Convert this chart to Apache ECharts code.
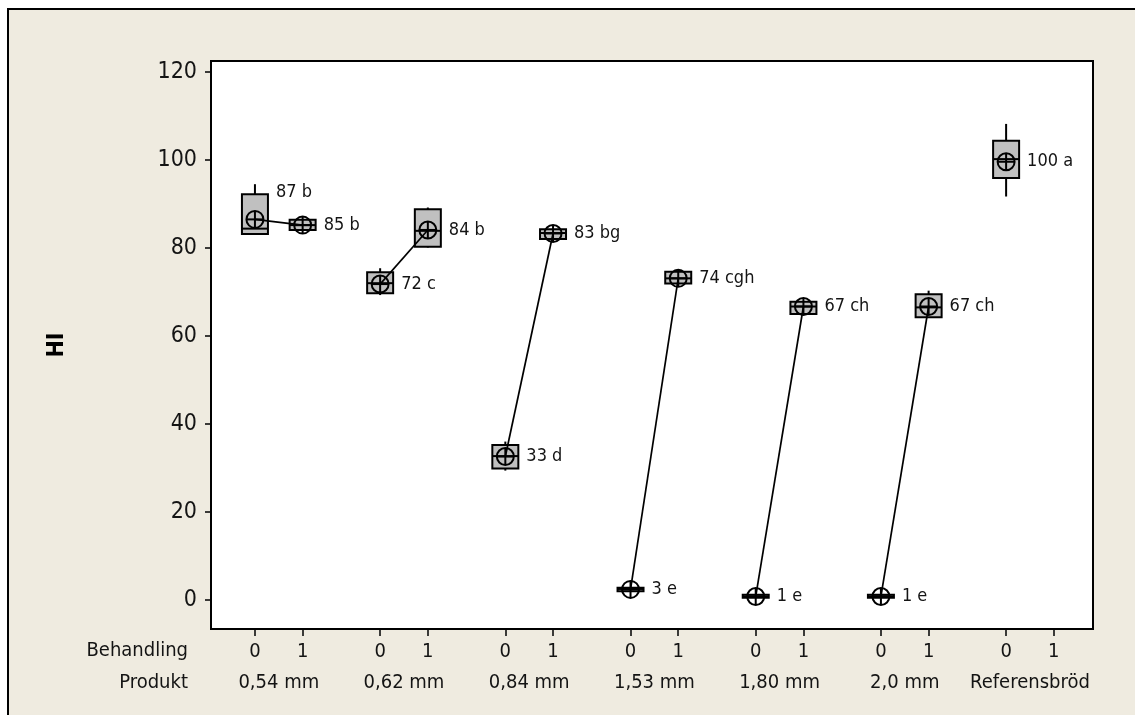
<!DOCTYPE html>
<html>
<head>
<meta charset="utf-8">
<script src="https://cdn.jsdelivr.net/npm/echarts@6/dist/echarts.min.js"></script>
<style>
  html, body { margin: 0; padding: 0; background: #ffffff; overflow: hidden; }
  #panel { position: absolute; left: 7px; top: 8px; width: 1200px; height: 800px;
           background: #EFEBE0; border: 2px solid #000; }
  #main { position: absolute; left: 0; top: 0; width: 1135px; height: 715px; }
</style>
</head>
<body>
<div id="panel"></div>
<div id="main"></div>
<script>
// ---- data ----
const products = ['0,54 mm', '0,62 mm', '0,84 mm', '1,53 mm', '1,80 mm', '2,0 mm', 'Referensbröd'];
const treatments = ['0', '1'];
const yTicks = [0, 20, 40, 60, 80, 100, 120];
// one entry per box
const pointProduct   = [0, 0, 1, 1, 2, 2, 3, 3, 4, 4, 5, 5, 6];
const pointTreatment = [0, 1, 0, 1, 0, 1, 0, 1, 0, 1, 0, 1, 0];
const minV    = [83.2, 84.1, 69.3, 80.1, 29.4, 82.05, 1.9, 71.9, 0.4, 65.0, 0.4, 64.25, 91.7];
const q1V     = [83.2, 84.1, 69.7, 80.3, 29.9, 82.05, 2.0, 71.9, 0.5, 65.0, 0.5, 64.25, 95.9];
const medianV = [84.4, 85.2, 72.0, 83.9, 32.7, 83.4, 2.5, 73.1, 0.8, 66.7, 0.8, 66.5, 100.2];
const q3V     = [92.2, 86.4, 74.5, 88.8, 35.2, 84.25, 2.8, 74.6, 1.2, 67.8, 1.2, 69.5, 104.4];
const maxV    = [94.5, 86.4, 75.4, 89.2, 36.0, 84.25, 2.9, 74.6, 1.3, 67.8, 1.3, 70.3, 108.2];
const meanV   = [86.5, 85.2, 71.8, 84.1, 32.6, 83.3, 2.4, 73.1, 0.8, 66.7, 0.8, 66.7, 99.6];
const pointLabels = ['87 b', '85 b', '72 c', '84 b', '33 d', '83 bg', '3 e', '74 cgh', '1 e', '67 ch', '1 e', '67 ch', '100 a'];

// ---- layout helpers ----
const FONT = "'DejaVu Sans Condensed', 'DejaVu Sans', sans-serif";
const TEXT = '#141414';
const T_OFF = 0.381;                 // spacing of treatment within a product group
const xPos = (g, t) => g + t * T_OFF;
const tickPositions = [];
const tickLabels = [];
products.forEach((p, g) => treatments.forEach((t, ti) => { tickPositions.push(xPos(g, ti)); tickLabels.push(t); }));
const groupCenters = products.map((p, g) => xPos(g, 0.5));
const labelLift = { 0: -27 };        // the first label sits above its mean symbol

const boxData = pointProduct.map((g, i) => [
  xPos(g, pointTreatment[i]), minV[i], q1V[i], medianV[i], q3V[i], maxV[i], meanV[i], i
]);

function renderBox(params, api) {
  const x = api.value(0);
  const idx = api.value(7);
  const c = v => api.coord([x, v]);
  const cx = c(api.value(1))[0];
  const yMin = c(api.value(1))[1], yQ1 = c(api.value(2))[1], yMed = c(api.value(3))[1];
  const yQ3 = c(api.value(4))[1], yMax = c(api.value(5))[1], yMean = c(api.value(6))[1];
  const half = 13, r = 8.5;
  const line = { stroke: '#000', lineWidth: 2 };
  const ch = [];
  if (yQ3 - yMax > 0.5) ch.push({ type: 'line', shape: { x1: cx, y1: yMax, x2: cx, y2: yQ3 }, style: line });
  if (yMin - yQ1 > 0.5) ch.push({ type: 'line', shape: { x1: cx, y1: yQ1, x2: cx, y2: yMin }, style: line });
  ch.push({ type: 'rect', shape: { x: cx - half, y: yQ3, width: half * 2, height: Math.max(yQ1 - yQ3, 1) },
            style: { fill: '#C0C0C0', stroke: '#000', lineWidth: 2 } });
  ch.push({ type: 'line', shape: { x1: cx - half, y1: yMed, x2: cx + half, y2: yMed }, style: line });
  ch.push({ type: 'circle', shape: { cx: cx, cy: yMean, r: r }, style: { fill: null, stroke: '#000', lineWidth: 2 } });
  ch.push({ type: 'line', shape: { x1: cx - r, y1: yMean, x2: cx + r, y2: yMean }, style: line });
  ch.push({ type: 'line', shape: { x1: cx, y1: yMean - r, x2: cx, y2: yMean + r }, style: line });
  ch.push({ type: 'text', x: cx + 21, y: yMean + (labelLift[idx] || 0),
            style: { text: pointLabels[idx], fill: TEXT, fontSize: 18, fontFamily: FONT,
                     align: 'left', verticalAlign: 'middle' } });
  return { type: 'group', children: ch };
}

// connecting lines between treatment means of the same product
const lineSeries = [];
products.forEach((p, g) => {
  const pts = [];
  pointProduct.forEach((pg, i) => { if (pg === g) pts.push([xPos(g, pointTreatment[i]), meanV[i]]); });
  if (pts.length > 1) {
    lineSeries.push({ type: 'line', data: pts, symbol: 'none', silent: true, z: 5,
                      lineStyle: { color: '#000', width: 1.7 }, animation: false });
  }
});

const findIdx = (arr, v) => arr.findIndex(a => Math.abs(a - v) < 1e-6);

const chart = echarts.init(document.getElementById('main'), null, { renderer: 'canvas' });
chart.setOption({
  backgroundColor: 'transparent',
  animation: false,
  grid: { left: 211, top: 61, right: 42, bottom: 86, show: true,
          backgroundColor: '#ffffff', borderColor: '#000', borderWidth: 2 },
  xAxis: [{
    type: 'value', min: -0.351, max: 6.694, position: 'bottom',
    splitLine: { show: false },
    axisLine: { show: true, onZero: false, lineStyle: { color: '#000', width: 2 } },
    axisTick: { show: true, length: 7, customValues: tickPositions, lineStyle: { color: '#000', width: 1.5 } },
    axisLabel: { customValues: tickPositions, margin: 13, color: TEXT, fontSize: 20, fontFamily: FONT,
                 formatter: v => { const k = findIdx(tickPositions, v); return k >= 0 ? tickLabels[k] : ''; } }
  }, {
    type: 'value', min: -0.351, max: 6.694, position: 'bottom',
    splitLine: { show: false },
    axisLine: { show: false, onZero: false },
    axisTick: { show: false },
    axisLabel: { customValues: groupCenters, margin: 44, color: TEXT, fontSize: 20, fontFamily: FONT,
                 formatter: v => { const k = findIdx(groupCenters, v); return k >= 0 ? products[k] : ''; } }
  }],
  yAxis: {
    type: 'value', min: -6.6, max: 122.5,
    name: 'HI', nameLocation: 'middle', nameGap: 142, nameRotate: 90,
    nameTextStyle: { color: '#000', fontSize: 23, fontWeight: 'bold', fontFamily: FONT },
    splitLine: { show: false },
    axisLine: { show: true, onZero: false, lineStyle: { color: '#000', width: 2 } },
    axisTick: { show: true, length: 6, customValues: yTicks, lineStyle: { color: '#000', width: 1.5 } },
    axisLabel: { customValues: yTicks, margin: 14, color: TEXT, fontSize: 23, fontFamily: FONT }
  },
  graphic: [
    { type: 'text', x: 188, y: 651, style: { text: 'Behandling', fill: TEXT, fontSize: 20, fontFamily: FONT, align: 'right', verticalAlign: 'middle' } },
    { type: 'text', x: 188, y: 683, style: { text: 'Produkt', fill: TEXT, fontSize: 20, fontFamily: FONT, align: 'right', verticalAlign: 'middle' } }
  ],
  series: [{
    type: 'custom', renderItem: renderBox, data: boxData, z: 3,
    encode: { x: 0, y: [1, 5, 6] }, animation: false
  }].concat(lineSeries)
});
</script>
</body>
</html>
